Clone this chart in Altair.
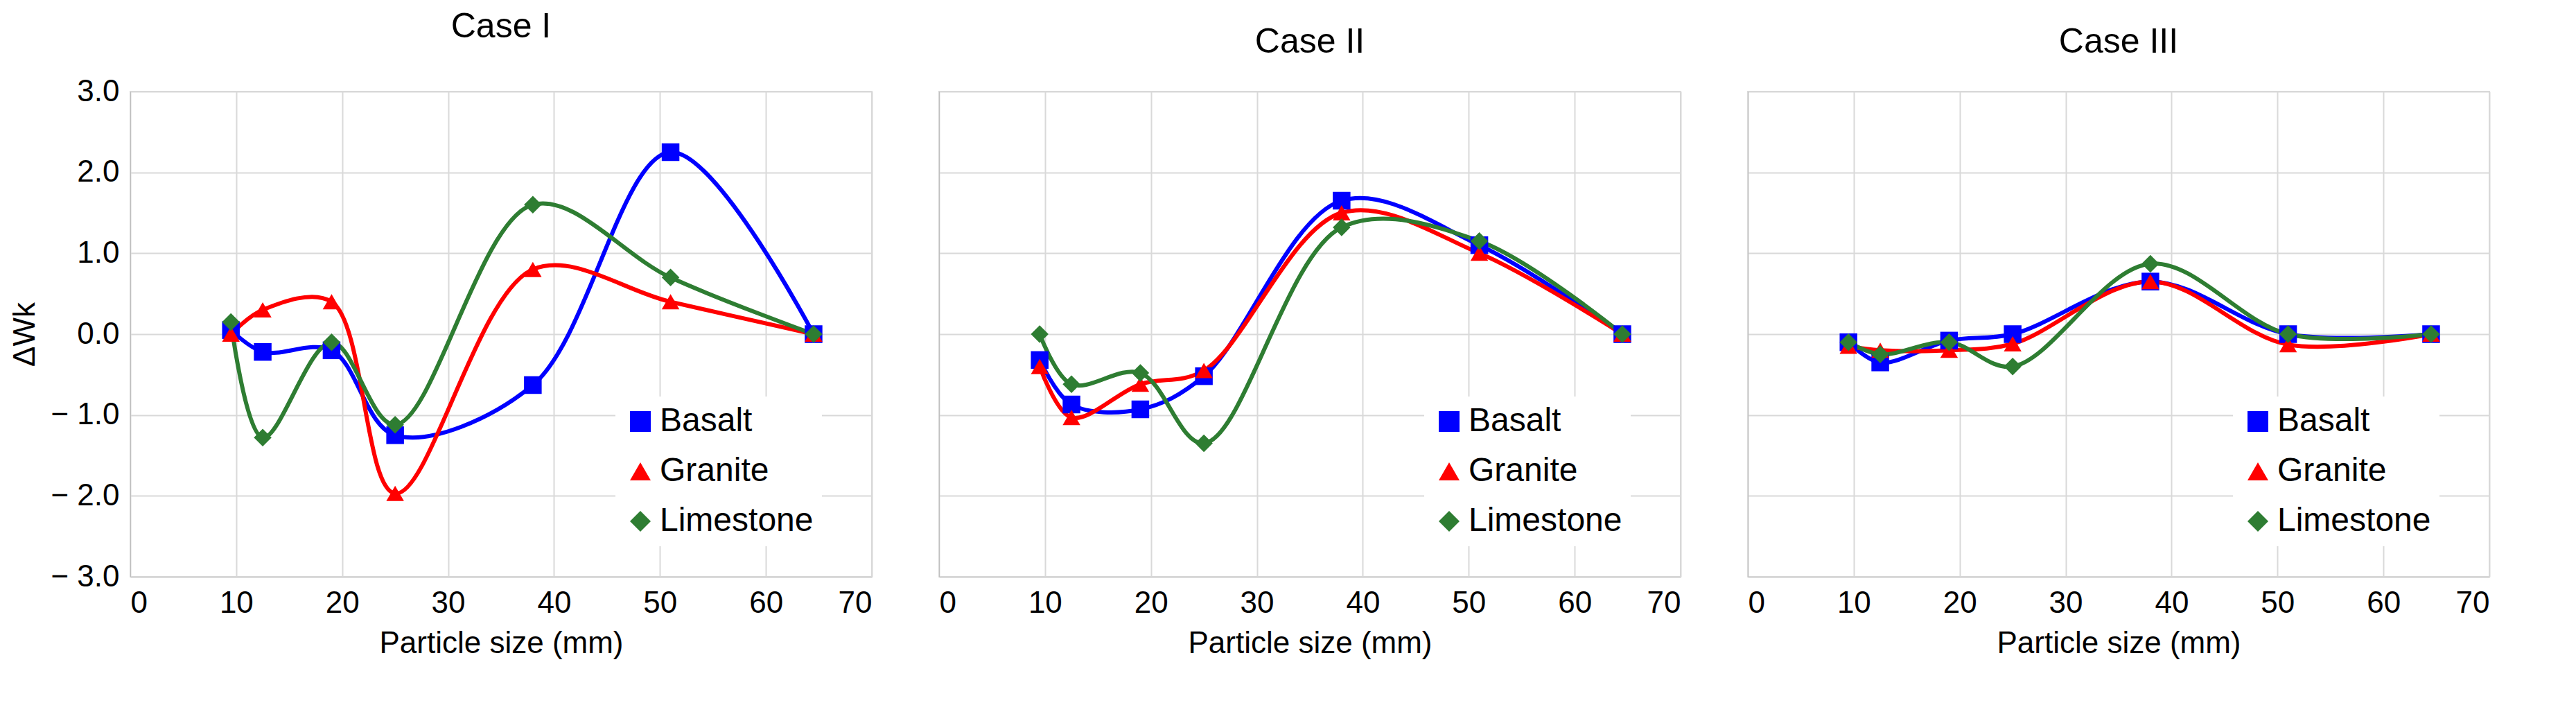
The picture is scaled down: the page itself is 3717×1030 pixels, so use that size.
import altair as alt
import pandas as pd

sizes = [9.5, 12.5, 19, 25, 38, 51, 64.5]
materials = ["Basalt", "Granite", "Limestone"]
cases = ["Case I", "Case II", "Case III"]

case1 = {
    "Basalt": [0.05, -0.22, -0.2, -1.25, -0.63, 2.25, 0.0],
    "Granite": [0.0, 0.3, 0.4, -1.97, 0.8, 0.4, 0.0],
    "Limestone": [0.15, -1.28, -0.1, -1.12, 1.6, 0.7, 0.0],
}
case2 = {
    "Basalt": [-0.32, -0.87, -0.93, -0.52, 1.65, 1.1, 0.0],
    "Granite": [-0.4, -1.03, -0.62, -0.45, 1.5, 1.0, 0.0],
    "Limestone": [0.0, -0.62, -0.48, -1.35, 1.32, 1.15, 0.0],
}
case3 = {
    "Basalt": [-0.1, -0.35, -0.08, 0.0, 0.65, 0.0, 0.0],
    "Granite": [-0.15, -0.2, -0.2, -0.12, 0.65, -0.13, 0.0],
    "Limestone": [-0.1, -0.25, -0.1, -0.4, 0.87, 0.0, 0.0],
}

colors = ["#0000ff", "#ff0000", "#2e7d32"]
shapes = ["square", "triangle-up", "diamond"]
font = "Liberation Sans"


def build_panel(data: dict, title: str, first: bool) -> alt.LayerChart:
    rows = []
    for m in materials:
        for x, v in zip(sizes, data[m]):
            rows.append({"size": x, "value": v, "material": m})
    df = pd.DataFrame(rows)

    x = alt.X("size:Q", title="Particle size (mm)",
              scale=alt.Scale(domain=[0, 70], nice=False),
              axis=alt.Axis(values=list(range(0, 71, 10)), labelFontSize=44,
                            titleFontSize=44, titleFontWeight="normal",
                            labelPadding=16, titlePadding=14, ticks=False))
    y = alt.Y("value:Q", title="ΔWk" if first else None,
              scale=alt.Scale(domain=[-3, 3], nice=False),
              axis=alt.Axis(values=[-3, -2, -1, 0, 1, 2, 3], labels=first,
                            labelExpr="datum.value < 0 ? '− ' + format(abs(datum.value), '.1f') : format(datum.value, '.1f')",
                            labelFontSize=44, titleFontSize=44,
                            titleFontWeight="normal", ticks=False,
                            labelPadding=16, titlePadding=14))
    color = alt.Color("material:N", scale=alt.Scale(domain=materials, range=colors),
                      legend=alt.Legend(title=None, orient="none", legendX=700,
                                        legendY=440, labelFontSize=48, labelLimit=0,
                                        symbolSize=900, symbolStrokeWidth=0,
                                        rowPadding=24, fillColor="white",
                                        padding=12, labelFont=font))
    shape = alt.Shape("material:N", scale=alt.Scale(domain=materials, range=shapes),
                      legend=None)

    base = alt.Chart(df).encode(x=x, y=y, color=color, detail="material:N")
    lines = base.mark_line(interpolate="catmull-rom", strokeWidth=6)
    points = base.mark_point(filled=True, size=650, opacity=1).encode(shape=shape)
    return (lines + points).properties(
        width=1070, height=700,
        title=alt.TitleParams(title, fontSize=50, fontWeight="normal", font=font, offset=46),
    )


chart = (
    alt.hconcat(
        build_panel(case1, cases[0], True),
        build_panel(case2, cases[1], False),
        build_panel(case3, cases[2], False),
        spacing=95,
    )
    .resolve_scale(color="independent", shape="independent")
    .configure_axis(gridColor="#d9d9d9", domainColor="#bfbfbf", gridWidth=2,
                    labelFont=font, titleFont=font, labelColor="#000", titleColor="#000")
    .configure_view(stroke="#d9d9d9", strokeWidth=2)
)

chart.save("out.html", embed_options={"renderer": "svg", "actions": False})
